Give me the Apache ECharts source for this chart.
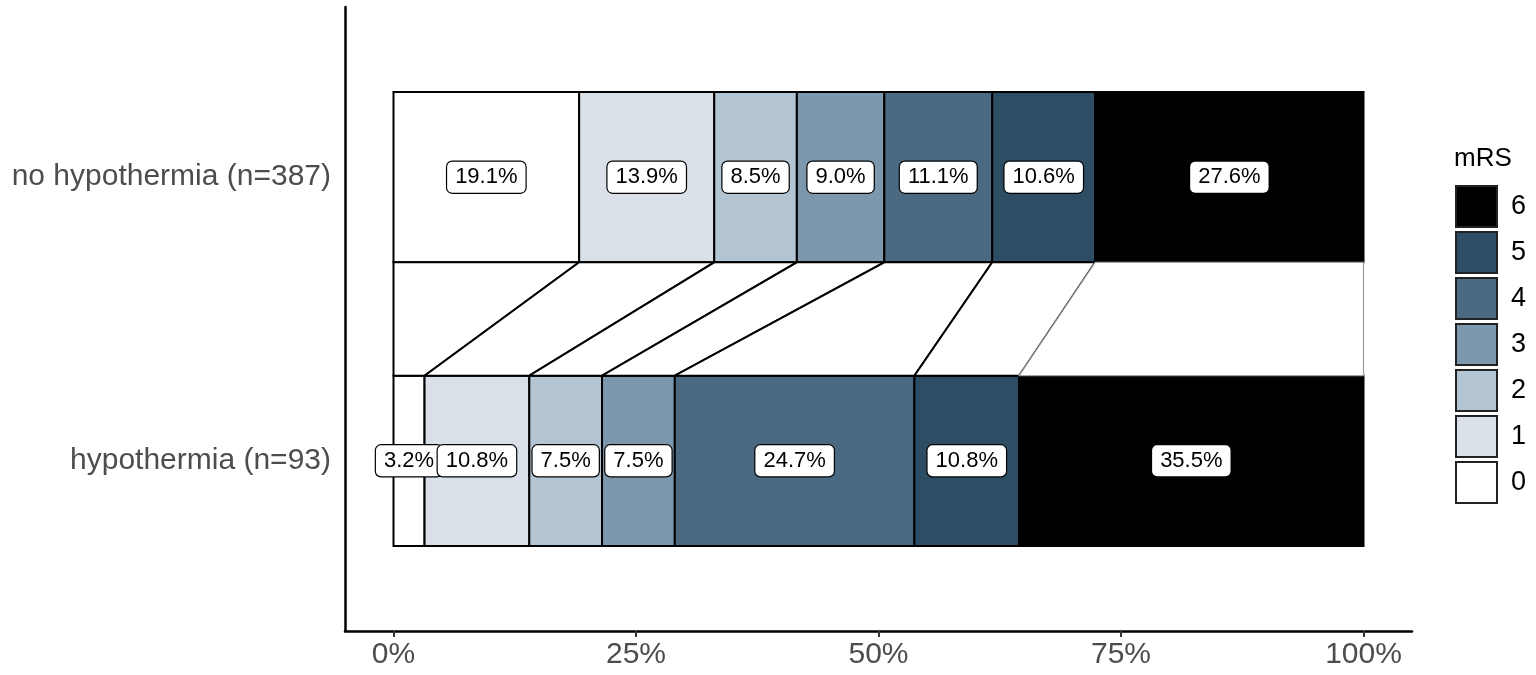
<!DOCTYPE html>
<html>
<head>
<meta charset="utf-8">
<script src="https://cdn.jsdelivr.net/npm/echarts@6/dist/echarts.min.js"></script>
<style>
  html, body { margin: 0; padding: 0; background: #fff; }
  #chart { width: 1536px; height: 675px; }
</style>
</head>
<body>
<div id="chart"></div>
<script>
// ---- data ----
const categories = ['hypothermia (n=93)', 'no hypothermia (n=387)'];
const levels = ['0', '1', '2', '3', '4', '5', '6'];
const hypothermia = [3.2, 10.8, 7.5, 7.5, 24.7, 10.8, 35.5];
const noHypothermia = [19.1, 13.9, 8.5, 9.0, 11.1, 10.6, 27.6];
const xTicks = [0, 0.25, 0.5, 0.75, 1];
const levelColors = ['#ffffff', '#d9e0e8', '#b3c5d3', '#7d98ad', '#4b6a82', '#2c4d64', '#000000'];

// ---- helpers ----
const HALF = 0.3; // half bar thickness in y units
const groups = [hypothermia, noHypothermia]; // y = 1, 2
function cumulative(vals) {
  const total = vals.reduce((a, b) => a + b, 0);
  const out = [0];
  let s = 0;
  vals.forEach(v => { s += v; out.push(s / total); });
  return out;
}
const cums = groups.map(cumulative);

const FONT = '"Liberation Sans", Arial, Helvetica, sans-serif';

// bar series: one per level
const barSeries = levels.map((lv, k) => ({
  name: lv,
  type: 'custom',
  itemStyle: { color: levelColors[k] },
  z: 2,
  data: groups.map((g, gi) => [cums[gi][k], cums[gi][k + 1], gi + 1]),
  renderItem: function (params, api) {
    const x0 = api.value(0), x1 = api.value(1), yc = api.value(2);
    const p0 = api.coord([x0, yc + HALF]);
    const p1 = api.coord([x1, yc - HALF]);
    return {
      type: 'rect',
      shape: { x: p0[0], y: p0[1], width: p1[0] - p0[0], height: p1[1] - p0[1] },
      style: { fill: levelColors[k], stroke: '#000', lineWidth: 2 }
    };
  }
}));

// flow series between the bars
const flowData = levels.map((lv, k) => [cums[1][k], cums[1][k + 1], cums[0][k], cums[0][k + 1], k]);
const flowSeries = {
  name: 'flows',
  type: 'custom',
  z: 3,
  silent: true,
  data: flowData,
  renderItem: function (params, api) {
    const t0 = api.value(0), t1 = api.value(1), b0 = api.value(2), b1 = api.value(3), k = api.value(4);
    const yTop = 2 - HALF, yBot = 1 + HALF;
    const pts = [api.coord([t0, yTop]), api.coord([t1, yTop]), api.coord([b1, yBot]), api.coord([b0, yBot])];
    return {
      type: 'polygon',
      shape: { points: pts },
      style: { fill: '#ffffff', stroke: k === 6 ? '#9a9a9a' : '#000', lineWidth: k === 6 ? 1.2 : 2 }
    };
  }
};

// label series
const labelData = [];
const labelTexts = [];
groups.forEach((g, gi) => {
  g.forEach((v, k) => {
    labelData.push([(cums[gi][k] + cums[gi][k + 1]) / 2, gi + 1]);
    labelTexts.push(v.toFixed(1) + '%');
  });
});
const labelSeries = {
  name: 'labels',
  type: 'custom',
  z: 10,
  silent: true,
  data: labelData,
  renderItem: function (params, api) {
    const p = api.coord([api.value(0), api.value(1)]);
    return {
      type: 'text',
      x: p[0], y: p[1],
      z2: 10,
      style: {
        text: labelTexts[params.dataIndex],
        fill: '#000',
        font: '22px ' + FONT,
        align: 'center',
        verticalAlign: 'middle',
        backgroundColor: '#ffffff',
        borderColor: '#000',
        borderWidth: 1.2,
        borderRadius: 5,
        padding: [5, 8, 4, 8]
      }
    };
  }
};

const chart = echarts.init(document.getElementById('chart'));
chart.setOption({
  animation: false,
  backgroundColor: '#fff',
  textStyle: { fontFamily: FONT },
  title: {
    text: 'mRS', left: 1454, top: 146, padding: 0,
    textStyle: { fontSize: 26, fontWeight: 'normal', color: '#000', fontFamily: FONT }
  },
  legend: {
    orient: 'vertical', left: 1455, top: 185, padding: 0,
    itemWidth: 41, itemHeight: 41, itemGap: 3,
    selectedMode: false,
    textStyle: { fontSize: 27, color: '#000', padding: [0, 0, 0, 9], fontFamily: FONT },
    data: levels.slice().reverse().map(lv => ({
      name: lv, icon: 'rect',
      itemStyle: { color: levelColors[+lv], borderColor: '#222', borderWidth: 2 }
    }))
  },
  grid: { left: 345, right: 124, top: 7, bottom: 44, containLabel: false },
  xAxis: {
    type: 'value', min: -0.05, max: 1.05,
    axisLine: { show: true, onZero: false, lineStyle: { color: '#000', width: 2.5 } },
    axisTick: { show: true, customValues: xTicks, length: 6, lineStyle: { color: '#333', width: 2 } },
    axisLabel: {
      customValues: xTicks, color: '#4d4d4d', fontSize: 30, margin: 9, fontFamily: FONT,
      formatter: v => Math.round(v * 100) + '%'
    },
    splitLine: { show: false }
  },
  yAxis: {
    type: 'value', min: 0.4, max: 2.6,
    axisLine: { show: true, onZero: false, lineStyle: { color: '#000', width: 2.5 } },
    axisTick: { show: false },
    axisLabel: {
      customValues: [1, 2], color: '#4d4d4d', fontSize: 30, margin: 14, fontFamily: FONT,
      formatter: v => categories[Math.round(v) - 1] || ''
    },
    splitLine: { show: false }
  },
  series: [...barSeries, flowSeries, labelSeries]
});
</script>
</body>
</html>
